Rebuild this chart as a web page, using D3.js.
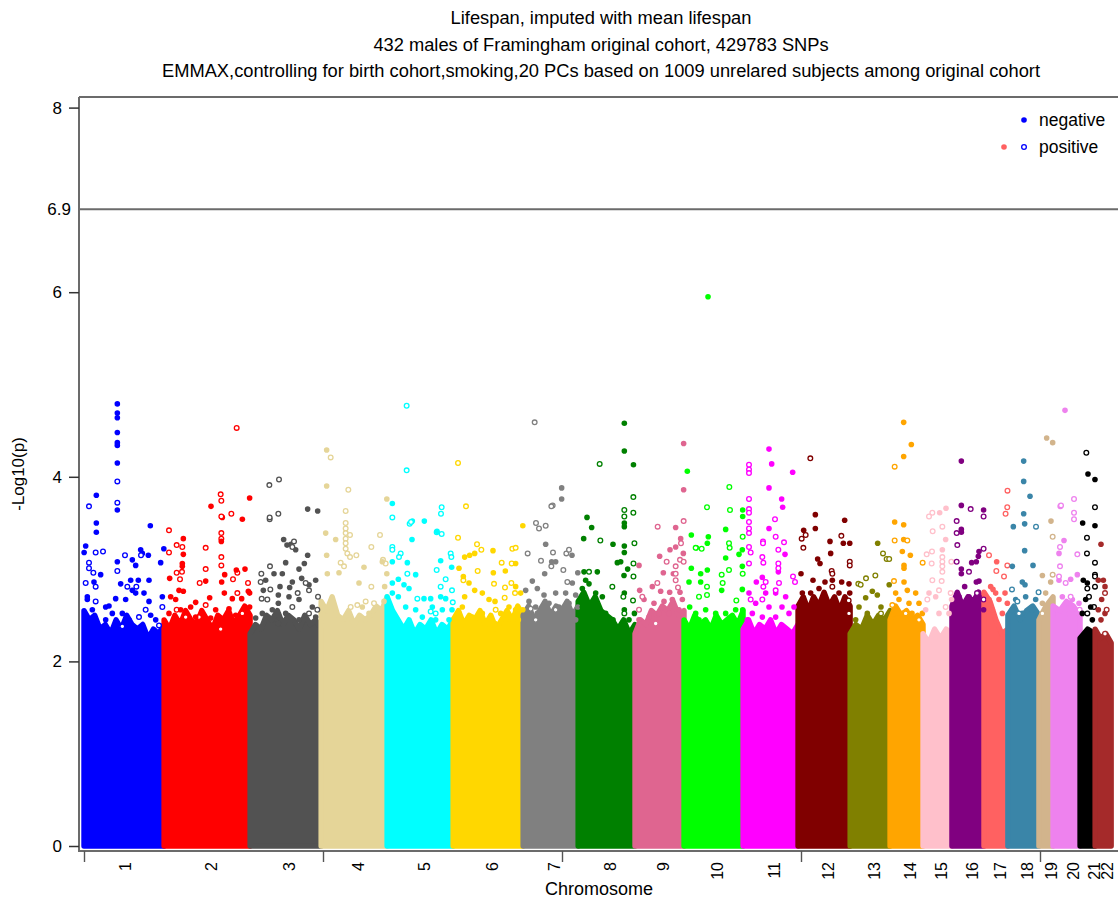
<!DOCTYPE html>
<html>
<head>
<meta charset="utf-8">
<script src="https://cdn.jsdelivr.net/npm/d3@7/dist/d3.min.js"></script>
<style>
  body { margin: 0; background: #fff; }
  text { font-family: "Liberation Sans", Arial, sans-serif; fill: #000; }
</style>
</head>
<body>
<svg id="chart" width="1118" height="899"></svg>
<script>
// ---- data ---------------------------------------------------------------
const chromosomes = ["1","2","3","4","5","6","7","8","9","10","11","12","13","14","15","16","17","18","19","20","21","22"];
// number of SNPs per chromosome (SNPs are plotted in genome order)
const snpCounts = [33510, 35990, 29720, 27600, 27620, 29300, 23010, 23800, 20510, 24700, 23000,
                   21800, 16700, 13800, 12100, 13400, 10000, 13000, 5900, 11300, 6300, 6723];
const chrColors = ["#0000ff","#ff0000","#525252","#e5d598","#00ffff","#ffd700","#808080","#008000",
                   "#df6590","#00ff00","#ff00ff","#800000","#808000","#ffa500","#ffc0cb","#800080",
                   "#ff6161","#3a85a8","#d2b48c","#ee82ee","#000000","#a52a2a"];
// upper edge of the saturated bulk of -log10(p) values, sampled evenly along each chromosome
const bandTops = [
  [2.55, 2.45, 2.50, 2.35, 2.40, 2.30, 2.45, 2.35, 2.50, 2.40, 2.35, 2.40, 2.25, 2.35, 2.30, 2.40],
  [2.45, 2.35, 2.50, 2.40, 2.55, 2.45, 2.40, 2.55, 2.45, 2.35, 2.50, 2.45, 2.55, 2.40, 2.50, 2.60, 2.50],
  [2.30, 2.40, 2.35, 2.50, 2.45, 2.55, 2.40, 2.50, 2.45, 2.35, 2.50, 2.40, 2.45, 2.35],
  [2.65, 2.55, 2.70, 2.50, 2.45, 2.55, 2.40, 2.50, 2.45, 2.50, 2.60, 2.55, 2.70],
  [2.70, 2.55, 2.45, 2.35, 2.45, 2.30, 2.40, 2.35, 2.45, 2.30, 2.40, 2.35, 2.45],
  [2.45, 2.55, 2.40, 2.50, 2.45, 2.55, 2.40, 2.50, 2.35, 2.45, 2.55, 2.45, 2.60, 2.50],
  [2.50, 2.60, 2.45, 2.55, 2.65, 2.50, 2.60, 2.55, 2.65, 2.50, 2.60],
  [2.65, 2.75, 2.60, 2.70, 2.55, 2.50, 2.45, 2.35, 2.45, 2.30, 2.40],
  [2.30, 2.45, 2.40, 2.55, 2.50, 2.60, 2.55, 2.65, 2.50, 2.55],
  [2.45, 2.35, 2.50, 2.40, 2.45, 2.35, 2.50, 2.40, 2.45, 2.50, 2.40, 2.55],
  [2.35, 2.45, 2.30, 2.40, 2.35, 2.45, 2.30, 2.40, 2.35, 2.30, 2.40],
  [2.60, 2.70, 2.55, 2.70, 2.60, 2.75, 2.60, 2.70, 2.55, 2.70, 2.60],
  [2.30, 2.40, 2.35, 2.50, 2.40, 2.50, 2.45, 2.55],
  [2.45, 2.60, 2.50, 2.55, 2.45, 2.50, 2.40],
  [2.30, 2.20, 2.35, 2.25, 2.35, 2.30],
  [2.60, 2.75, 2.60, 2.70, 2.65, 2.75, 2.60],
  [2.75, 2.65, 2.45, 2.30, 2.35],
  [2.50, 2.60, 2.45, 2.55, 2.60, 2.50],
  [2.45, 2.60, 2.70],
  [2.60, 2.55, 2.65, 2.60, 2.50],
  [2.25, 2.35, 2.30],
  [2.35, 2.25, 2.30, 2.20]
];
// individual SNPs above the bulk: [chromosome, genome position (thousands of SNPs), -log10(p), negative effect 1 / positive 0]
const hits = [
  [1,13.95,4.79,1],[1,13.95,4.69,1],[1,13.95,4.64,1],[1,13.95,4.48,1],[1,13.95,4.37,1],[1,13.95,4.34,1],[1,13.95,4.15,1],[1,13.95,3.64,1],
  [1,13.95,3.95,0],[1,13.95,3.72,0],[1,5.16,3.80,1],[1,5.16,3.50,1],[1,5.16,3.40,1],[1,2.09,3.68,0],[1,27.75,3.47,1],
  [1,0.70,3.25,1],[1,0.05,3.18,1],[1,4.88,3.18,0],[1,7.95,3.19,0],[1,33.4,3.22,1],[1,23.71,3.21,1],[1,26.92,3.15,1],[1,24.41,3.17,1],
  [1,17.15,3.15,0],[1,23.85,3.15,0],[1,32.08,3.07,1],[1,13.95,3.08,1],[1,20.22,3.10,1],[1,21.62,3.04,1],
  [1,13.95,2.98,0],[1,2.09,3.07,0],[1,2.09,3.01,0],[1,3.91,2.96,0],[1,6.97,2.94,1],[1,4.18,2.86,1],[1,27.2,2.88,1],[1,22.73,2.88,1],
  [1,19.53,2.88,1],[1,15.34,2.84,1],[1,4.88,2.81,0],[1,21.9,2.81,0],[1,18.13,2.81,0],[1,1.39,2.70,1],[1,1.39,2.67,1],[1,27.2,2.65,1],
  [1,32.78,2.70,1],[1,9.07,2.59,1],[1,10.46,2.60,1],[1,13.25,2.68,1],[1,20.22,2.77,1],[1,21.62,2.74,1],[1,25.1,2.74,1],[1,17.43,2.67,1],
  [1,4.88,2.65,0],[1,25.8,2.56,0],[1,32.78,2.59,0],[1,23.01,2.48,0],[1,31.38,2.39,0],[1,3.49,2.56,1],[1,16.04,2.52,1],[1,11.85,2.52,1],
  [1,27.89,2.50,1],[1,29.99,2.45,1],[1,9.07,2.45,1],[1,18.83,2.45,1],[1,0.70,2.45,1],[1,6.28,2.38,1],[1,25.8,2.30,1],[1,14.64,2.34,1],
  [1,16.04,2.38,0],[1,0.70,2.85,0],

  [2,63.88,4.53,0],[2,69.3,3.77,1],[2,57.18,3.81,0],[2,57.46,3.74,0],[2,53.14,3.68,1],[2,61.65,3.60,0],[2,57.88,3.56,1],[2,66.25,3.54,1],
  [2,57.46,3.57,0],[2,35.56,3.42,0],[2,57.46,3.39,0],[2,57.46,3.33,0],[2,57.46,3.30,1],[2,41.56,3.33,1],[2,38.77,3.26,0],[2,41.14,3.24,0],
  [2,50.91,3.23,0],[2,35.56,3.18,0],[2,57.46,3.13,0],[2,41.56,3.16,1],[2,41.14,3.06,1],[2,41.14,3.03,1],[2,57.46,3.04,0],[2,50.91,3.00,0],
  [2,41.0,2.97,0],[2,38.77,2.96,0],[2,64.16,2.96,0],[2,62.34,2.89,0],[2,68.62,2.85,0],[2,48.4,2.85,0],[2,40.17,2.89,0],
  [2,58.86,2.94,1],[2,63.74,2.99,1],[2,67.36,3.00,1],[2,50.91,2.87,1],[2,57.6,2.86,1],[2,35.84,2.90,1],[2,39.75,2.77,1],[2,41.56,2.76,1],
  [2,68.76,2.76,1],[2,69.3,2.74,1],[2,52.58,2.69,1],[2,46.72,2.64,1],[2,62.06,2.68,1],[2,65.97,2.68,1],[2,58.72,2.74,1],[2,36.26,2.70,1],
  [2,38.35,2.67,1],[2,64.16,2.74,0],[2,50.91,2.61,0],[2,42.54,2.48,0],[2,48.12,2.48,0],[2,66.25,2.52,0],[2,57.18,2.35,0],[2,38.77,2.56,0],
  [2,44.63,2.59,1],[2,40.45,2.56,1],[2,55.09,2.56,1],[2,60.67,2.57,1],[2,69.3,2.59,1],[2,35.56,2.52,1],[2,46.72,2.48,1],[2,53.0,2.47,1],
  [2,63.46,2.50,1],[2,42.54,2.38,1],[2,59.28,2.41,1],[2,67.64,2.45,1],[2,50.91,2.34,1],[2,34.17,2.38,1],[2,38.35,2.30,1],[2,55.09,2.27,1],
  [2,62.06,2.30,1],

  [3,81.59,3.97,0],[3,77.55,3.91,0],[3,81.31,3.60,0],[3,77.68,3.54,0],[3,77.68,3.56,0],[3,93.58,3.65,1],[3,97.77,3.63,1],
  [3,83.54,3.32,1],[3,84.94,3.26,1],[3,88.56,3.21,1],[3,86.61,3.27,1],[3,87.87,3.30,0],[3,87.17,3.24,0],
  [3,93.58,3.15,1],[3,84.38,3.07,1],[3,92.19,3.06,1],[3,89.96,3.00,1],[3,82.98,2.95,1],[3,79.5,2.95,1],[3,87.17,2.86,1],[3,91.07,2.90,1],
  [3,82.01,2.81,1],[3,94.14,2.83,1],[3,96.93,2.88,1],[3,86.05,2.80,1],[3,77.82,3.03,0],[3,74.2,2.95,0],[3,73.92,2.86,0],[3,77.96,2.78,0],
  [3,74.34,2.68,0],[3,92.75,2.85,0],[3,94.14,2.77,0],[3,97.91,2.70,0],[3,89.4,2.74,0],[3,76.01,2.88,1],[3,81.31,2.72,1],[3,75.03,2.77,1],
  [3,81.31,2.63,1],[3,85.77,2.70,1],[3,89.96,2.67,1],[3,95.54,2.59,1],[3,78.8,2.56,1],[3,84.38,2.52,1],[3,74.62,2.52,1],[3,96.93,2.48,1],
  [3,71.83,2.47,1],[3,89.96,2.45,1],[3,81.31,2.41,1],[3,76.71,2.67,0],[3,87.17,2.59,0],[3,97.63,2.56,0],[3,94.14,2.52,0],

  [4,101.53,4.29,1],[4,103.21,4.21,0],[4,101.53,3.90,1],[4,110.6,3.86,0],[4,109.48,3.63,0],[4,101.12,3.39,1],[4,105.3,3.32,1],
  [4,101.53,3.15,1],[4,101.81,2.95,1],[4,106.69,2.96,1],[4,109.48,3.50,0],[4,109.48,3.44,0],[4,109.48,3.39,0],[4,109.48,3.33,0],
  [4,109.48,3.28,0],[4,109.48,3.22,0],[4,107.39,3.07,0],[4,108.79,3.03,0],[4,110.18,3.17,0],[4,111.3,3.37,0],[4,111.3,3.13,0],
  [4,126.7,3.76,1],[4,123.85,3.37,0],[4,113.95,3.15,0],[4,120.22,3.24,0],[4,120.22,2.81,0],[4,125.1,3.10,0],[4,126.22,3.06,0],
  [4,117.15,3.02,1],[4,115.06,2.85,1],[4,124.83,3.08,1],[4,125.8,2.81,1],[4,126.7,2.95,1],[4,111.58,2.59,0],[4,114.37,2.61,0],
  [4,117.85,2.65,0],[4,121.34,2.63,0],[4,116.46,2.59,1],[4,119.25,2.52,1],[4,125.52,2.65,1],

  [5,135.0,4.77,0],[5,135.0,4.07,0],[5,129.01,3.56,0],[5,149.65,3.67,0],[5,149.37,3.60,0],[5,129.01,3.71,1],[5,142.4,3.52,1],
  [5,137.38,3.52,1],[5,137.24,3.32,1],[5,136.26,3.49,0],[5,136.82,3.51,0],[5,147.56,3.40,0],[5,149.65,3.38,0],[5,132.5,3.17,0],
  [5,131.8,3.13,0],[5,153.42,3.17,0],[5,153.7,3.13,0],[5,129.01,3.24,0],[5,129.01,3.21,0],[5,147.7,3.41,1],[5,129.01,3.08,1],
  [5,135.29,3.07,1],[5,138.77,2.94,1],[5,153.84,3.02,1],[5,149.23,3.09,1],[5,135.29,2.95,0],[5,147.56,2.99,0],[5,151.32,2.89,0],
  [5,153.97,2.77,0],[5,149.23,2.81,0],[5,129.01,2.85,1],[5,131.52,2.89,1],[5,133.89,2.83,1],[5,135.98,2.79,1],[5,142.26,2.68,1],
  [5,145.05,2.68,1],[5,149.23,2.70,1],[5,151.32,2.68,1],[5,139.47,2.68,0],[5,145.05,2.54,0],[5,147.14,2.52,0],[5,154.3,2.64,0],
  [5,129.01,2.74,1],[5,131.52,2.70,1],[5,134.59,2.59,1],[5,138.77,2.56,1],[5,145.75,2.59,1],[5,149.93,2.56,1],[5,153.97,2.56,1],
  [5,141.56,2.48,1],[5,152.72,2.45,1],[5,131.1,2.45,1],[5,135.98,2.41,1],[5,147.14,2.45,1],

  [6,156.49,4.15,0],[6,159.83,3.68,0],[6,156.49,3.34,0],[6,164.44,3.27,0],[6,166.25,3.21,0],[6,179.22,3.22,0],[6,180.61,3.23,0],
  [6,164.71,2.98,0],[6,174.76,3.07,0],[6,178.94,3.06,0],[6,178.8,2.85,0],[6,171.55,2.84,0],[6,158.72,2.88,0],[6,176.15,2.80,0],
  [6,176.01,2.69,0],[6,172.25,2.56,0],[6,180.33,2.74,0],[6,183.6,3.47,1],[6,171.13,3.20,1],[6,171.27,2.96,1],[6,176.29,2.98,1],
  [6,180.61,3.06,1],[6,159.27,3.13,1],[6,161.37,3.15,1],[6,163.46,3.17,1],[6,156.9,3.01,1],[6,158.72,2.92,1],[6,161.09,2.85,1],
  [6,163.46,2.77,1],[6,166.67,2.74,1],[6,169.46,2.67,1],[6,171.97,2.65,1],[6,174.34,2.52,1],[6,177.82,2.59,1],[6,180.61,2.56,1],
  [6,183.6,2.56,1],[6,180.61,2.81,1],[6,182.7,2.74,1],[6,159.27,2.70,1],[6,158.3,2.59,1],[6,162.48,2.48,1],[6,166.67,2.52,1],
  [6,171.97,2.41,1],[6,176.43,2.45,1],[6,181.73,2.45,1],[6,156.9,2.52,1],

  [7,188.56,4.59,0],[7,196.09,3.69,0],[7,195.54,3.68,0],[7,189.12,3.50,0],[7,190.38,3.44,0],[7,193.17,3.47,0],[7,185.63,3.17,0],
  [7,191.21,3.09,0],[7,196.23,3.18,0],[7,201.81,3.17,0],[7,202.93,3.21,0],[7,195.54,3.03,0],[7,200.56,2.99,0],[7,202.23,2.86,0],
  [7,186.89,2.57,0],[7,188.98,2.45,0],[7,197.35,2.56,0],[7,199.86,3.88,1],[7,199.86,3.76,1],[7,193.17,3.27,1],[7,204.18,3.15,1],
  [7,206.6,2.96,1],[7,195.68,3.08,1],[7,197.35,3.08,1],[7,192.75,2.95,1],[7,187.59,2.87,1],[7,184.8,2.77,1],[7,189.68,2.79,1],
  [7,192.47,2.72,1],[7,197.35,2.74,1],[7,201.53,2.74,1],[7,204.32,2.85,1],[7,205.72,2.72,1],[7,186.19,2.65,1],[7,188.98,2.59,1],
  [7,194.56,2.63,1],[7,198.74,2.59,1],[7,202.93,2.63,1],[7,206.6,2.59,1],[7,189.68,2.52,1],[7,195.96,2.48,1],[7,201.53,2.52,1],
  [7,205.72,2.45,1],[7,186.19,2.45,1],

  [8,215.76,4.14,0],[8,216.04,3.31,0],[8,221.06,2.81,0],[8,211.3,2.97,0],[8,210.46,3.56,1],[8,212.41,3.45,1],[8,209.07,3.33,1],
  [8,221.34,3.27,1],[8,223.15,3.07,1],[8,209.21,2.97,1],[8,214.78,2.97,1],[8,209.9,2.88,1],[8,211.3,2.84,1],[8,208.5,2.79,1],
  [8,214.09,2.74,1],[8,216.88,2.70,1],[8,208.5,2.59,1],[8,212.41,2.56,1],[8,218.27,2.52,1],[8,209.9,2.52,1],[8,221.34,2.45,1],
  [8,211.3,2.38,1],[8,226.08,4.58,1],[8,226.08,4.28,1],[8,229.9,4.13,1],[8,226.08,3.50,1],[8,226.08,3.46,1],[8,226.08,3.25,1],
  [8,226.08,3.18,1],[8,227.47,3.00,1],[8,225.94,2.93,1],[8,226.08,2.74,1],[8,226.08,2.56,1],[8,224.55,3.08,1],[8,229.85,3.78,0],
  [8,229.85,3.61,0],[8,226.08,3.64,0],[8,226.08,3.57,0],[8,230.3,3.28,0],[8,229.9,3.06,0],[8,229.9,2.92,0],[8,229.71,2.66,0],
  [8,225.66,2.70,0],[8,226.08,2.52,0],[8,225.24,2.41,1],[8,228.03,2.45,1],[8,230.3,2.52,1],

  [9,250.9,4.36,1],[9,250.9,3.86,1],[9,247.56,3.45,1],[9,249.65,3.33,1],[9,250.77,3.17,1],[9,245.19,3.21,1],[9,240.86,3.14,1],
  [9,247.56,3.24,1],[9,242.4,2.96,1],[9,246.58,2.95,1],[9,237.8,2.81,1],[9,241.28,2.76,1],[9,245.05,2.75,1],[9,249.37,2.75,1],
  [9,232.22,3.04,1],[9,232.5,2.77,1],[9,234.31,2.67,1],[9,238.49,2.63,1],[9,242.68,2.65,1],[9,246.16,2.67,1],[9,250.35,2.67,1],
  [9,240.59,2.52,1],[9,244.77,2.52,1],[9,248.95,2.56,1],[9,236.4,2.48,1],[9,232.22,2.45,1],[9,250.9,3.52,0],[9,240.03,3.46,0],
  [9,249.79,3.28,0],[9,243.79,3.08,0],[9,249.37,3.10,0],[9,247.56,3.03,0],[9,247.56,2.95,0],[9,250.9,3.08,0],[9,247.56,2.88,0],
  [9,248.53,2.80,0],[9,239.89,2.85,0],[9,233.61,2.70,0],[9,232.22,2.56,0],[9,239.19,2.41,0],

  [10,261.1,5.95,1],[10,252.44,4.06,1],[10,254.11,3.37,1],[10,261.23,3.35,1],[10,260.81,3.28,1],[10,256.21,3.23,1],[10,268.48,3.43,1],
  [10,268.48,3.12,1],[10,274.06,3.16,1],[10,275.45,3.21,1],[10,275.6,3.64,1],[10,275.6,3.57,1],[10,275.45,3.03,1],[10,258.02,2.95,1],
  [10,260.81,2.99,1],[10,254.11,3.01,1],[10,258.02,2.86,1],[10,253.14,2.86,1],[10,266.81,2.77,1],[10,275.45,2.78,1],[10,253.42,2.59,1],
  [10,255.93,2.52,1],[10,260.11,2.56,1],[10,264.3,2.52,1],[10,268.48,2.52,1],[10,272.66,2.56,1],[10,275.6,2.56,1],[10,257.32,2.45,1],
  [10,265.69,2.38,1],[10,270.01,3.89,0],[10,260.67,3.67,0],[10,270.29,3.64,0],[10,275.6,3.35,0],[10,255.93,3.23,0],[10,258.44,3.22,0],
  [10,269.87,3.28,0],[10,270.15,3.23,0],[10,269.87,2.99,0],[10,266.81,2.94,0],[10,267.22,2.85,0],[10,260.67,2.81,0],[10,257.32,2.70,0],
  [10,260.67,2.72,0],[10,272.94,2.66,0],[10,275.6,2.95,0],

  [11,286.61,4.30,1],[11,287.73,4.14,1],[11,296.51,4.05,1],[11,286.61,3.88,1],[11,291.91,3.76,1],[11,292.33,3.67,1],[11,286.61,3.44,1],
  [11,293.31,3.16,1],[11,283.82,2.91,1],[11,290.52,2.97,1],[11,281.31,2.86,1],[11,285.22,2.74,1],[11,289.4,2.74,1],[11,293.58,2.70,1],
  [11,278.24,2.74,1],[11,281.03,2.63,1],[11,286.61,2.59,1],[11,292.05,2.59,1],[11,297.07,2.59,1],[11,279.64,2.52,1],[11,283.82,2.48,1],
  [11,289.4,2.48,1],[11,294.98,2.52,1],[11,277.55,2.45,1],[11,278.24,4.13,0],[11,278.24,4.08,0],[11,278.24,4.04,0],[11,278.24,3.76,0],
  [11,278.24,3.65,0],[11,278.24,3.61,0],[11,278.24,3.51,0],[11,278.24,3.44,0],[11,278.24,3.39,0],[11,289.12,3.54,0],[11,289.4,3.35,0],
  [11,292.89,3.29,0],[11,284.1,3.30,0],[11,284.1,3.28,0],[11,278.24,3.24,0],[11,278.94,3.18,0],[11,290.52,3.21,0],[11,283.82,3.13,0],
  [11,284.24,3.07,0],[11,278.24,3.06,0],[11,290.52,3.06,0],[11,290.52,3.01,0],[11,296.65,2.92,0],[11,297.49,2.86,0],[11,285.22,2.86,0],
  [11,284.24,2.81,0],[11,283.82,2.67,0],[11,278.94,2.67,0],[11,290.79,2.85,0],[11,289.4,2.77,0],

  [12,303.9,4.20,0],[12,300.28,3.33,0],[12,300.98,3.23,0],[12,301.95,3.37,0],[12,320.4,3.08,0],[12,320.4,3.04,0],[12,316.88,3.36,0],
  [12,312.83,2.98,0],[12,313.11,2.95,0],[12,319.94,2.66,0],[12,313.11,2.81,0],[12,320.08,2.52,0],[12,306.0,3.59,1],[12,306.0,3.44,1],
  [12,301.12,3.42,1],[12,318.27,3.53,1],[12,312.13,3.30,1],[12,317.71,3.28,1],[12,320.4,3.28,1],[12,312.41,3.17,1],[12,306.97,3.11,1],
  [12,307.95,3.06,1],[12,300.0,2.95,1],[12,305.02,2.88,1],[12,310.04,2.86,1],[12,313.11,2.88,1],[12,317.02,2.86,1],[12,320.08,2.84,1],
  [12,300.56,2.74,1],[12,304.04,2.74,1],[12,307.53,2.79,1],[12,315.9,2.74,1],[12,320.4,2.74,1],[12,301.95,2.59,1],[12,310.32,2.67,1],
  [12,318.69,2.59,1],[12,299.16,2.52,1],[12,306.14,2.52,1],[12,313.11,2.52,1],

  [13,332.08,3.28,1],[13,329.85,2.76,1],[13,331.94,2.72,1],[13,327.06,2.69,1],[13,324.27,2.59,1],[13,333.47,2.59,1],[13,327.75,2.52,1],
  [13,332.64,2.48,1],[13,322.87,2.45,1],[13,334.31,3.17,0],[13,335.84,3.11,0],[13,331.1,2.93,0],[13,327.2,2.90,0],[13,323.99,2.84,0],
  [13,324.97,2.83,0],[13,333.47,2.52,0],[13,336.9,3.11,0],[13,336.9,2.83,1],

  [14,342.96,4.59,1],[14,346.16,4.35,1],[14,342.96,4.22,1],[14,339.19,3.51,1],[14,342.96,3.48,1],[14,342.96,3.32,1],[14,342.4,3.19,1],
  [14,345.75,3.15,1],[14,343.1,3.04,1],[14,343.1,3.01,1],[14,343.1,2.86,1],[14,339.6,2.74,1],[14,344.49,2.77,1],[14,347.98,2.74,1],
  [14,341.0,2.67,1],[14,345.19,2.63,1],[14,349.37,2.63,1],[14,338.91,2.52,1],[14,342.4,2.52,1],[14,346.44,2.52,1],[14,350.77,2.52,1],
  [14,339.19,4.11,0],[14,339.19,3.31,0],[14,344.49,3.31,0],[14,350.9,3.07,0],[14,338.91,2.87,0],[14,338.21,2.61,0],[14,343.79,2.52,0],
  [14,349.37,2.45,0],

  [15,354.95,3.61,0],[15,353.56,3.57,0],[15,355.09,3.41,0],[15,359.14,3.46,0],[15,354.81,3.19,0],[15,352.58,3.16,0],[15,354.67,3.06,0],
  [15,354.95,2.88,0],[15,358.86,2.87,0],[15,359.14,3.13,0],[15,359.14,3.08,0],[15,359.14,3.03,0],[15,359.14,2.97,0],[15,362.9,3.08,0],
  [15,357.74,2.77,0],[15,352.86,2.67,0],[15,360.53,2.59,0],[15,362.62,2.74,0],[15,358.02,3.61,1],[15,360.67,3.66,1],[15,360.53,3.32,1],
  [15,359.14,3.21,1],[15,353.56,2.74,1],[15,356.35,2.70,1],[15,363.0,2.67,1],[15,352.16,2.56,1],[15,357.74,2.52,1],[15,361.93,2.52,1],

  [16,367.09,4.17,1],[16,367.09,3.69,1],[16,376.4,3.64,1],[16,367.09,3.43,1],[16,367.09,3.40,1],[16,374.48,3.19,1],[16,374.2,3.14,1],
  [16,373.36,3.08,1],[16,371.41,3.07,1],[16,367.09,3.00,1],[16,367.09,2.95,1],[16,368.48,2.81,1],[16,373.36,2.86,1],[16,374.48,2.87,1],
  [16,366.11,2.70,1],[16,370.29,2.70,1],[16,374.48,2.70,1],[16,364.71,2.59,1],[16,368.9,2.56,1],[16,373.08,2.59,1],[16,376.4,2.56,1],
  [16,370.99,3.65,0],[16,376.4,3.57,0],[16,365.13,3.52,0],[16,365.13,3.39,0],[16,365.41,3.26,0],[16,365.13,3.08,0],[16,370.29,2.97,0],
  [16,376.4,3.22,0],[16,373.64,2.74,0],[16,376.4,2.67,0],

  [17,386.4,3.85,0],[17,386.3,3.67,0],[17,385.6,3.60,0],[17,378.66,3.15,0],[17,381.73,2.98,0],[17,384.94,2.92,0],[17,386.33,3.04,0],
  [17,381.87,3.08,1],[17,379.36,2.81,1],[17,380.33,2.78,1],[17,381.45,2.74,1],[17,385.36,2.74,1],[17,378.66,2.67,1],[17,382.85,2.67,1],
  [17,386.33,2.63,1],[17,380.06,2.56,1],[17,384.24,2.52,1],

  [18,393.17,4.17,1],[18,393.17,3.95,1],[18,395.82,3.79,1],[18,393.17,3.60,1],[18,388.84,3.46,1],[18,393.58,3.49,1],[18,393.58,3.20,1],
  [18,388.42,3.03,1],[18,397.07,3.04,1],[18,392.61,2.86,1],[18,393.72,2.83,1],[18,389.82,2.67,1],[18,394.0,2.70,1],[18,398.19,2.67,1],
  [18,388.42,2.56,1],[18,392.61,2.52,1],[18,396.79,2.56,1],[18,398.33,3.46,0],[18,388.28,2.78,0],[18,390.52,2.65,0],[18,399.4,2.75,0],
  [18,391.21,2.52,0],

  [19,402.79,4.42,1],[19,405.3,4.37,1],[19,404.6,3.52,1],[19,401.0,2.93,1],[19,404.46,2.86,1],[19,402.37,2.74,1],[19,405.16,2.67,1],
  [19,401.0,2.63,1],[19,405.3,3.35,0],[19,405.3,2.94,0],[19,401.0,2.52,0],

  [20,410.46,4.72,1],[20,407.95,3.17,1],[20,410.04,3.31,1],[20,412.83,2.89,1],[20,415.62,2.94,1],[20,407.95,2.88,1],[20,409.35,2.70,1],
  [20,413.53,2.67,1],[20,416.32,2.63,1],[20,407.25,2.56,1],[20,412.13,2.52,1],[20,414.23,3.76,0],[20,408.51,3.68,0],[20,408.79,3.69,0],
  [20,414.23,3.61,0],[20,414.23,3.54,0],[20,408.37,3.24,0],[20,415.62,3.16,0],[20,408.37,3.03,0],[20,407.95,2.92,0],[20,410.74,2.85,0],
  [20,412.83,2.70,0],[20,416.6,2.56,0],

  [21,419.38,4.26,0],[21,423.0,3.67,0],[21,419.65,3.34,0],[21,419.65,3.17,0],[21,423.0,3.07,0],[21,423.0,2.94,0],[21,419.8,2.79,0],
  [21,423.0,2.92,0],[21,423.0,2.81,0],[21,420.5,2.70,0],[21,422.59,2.59,0],[21,419.8,2.52,0],[21,420.08,4.03,1],[21,423.0,3.97,1],
  [21,417.85,3.50,1],[21,423.0,3.47,1],[21,418.13,2.88,1],[21,419.8,2.85,1],[21,419.11,2.67,1],[21,421.2,2.59,1],[21,417.71,2.52,1],
  [21,421.9,2.45,1],

  [22,425.52,3.27,1],[22,424.41,2.88,1],[22,426.5,2.88,1],[22,427.2,2.81,1],[22,425.8,2.67,1],[22,424.41,2.56,1],[22,427.2,2.52,1],
  [22,425.52,2.45,1],[22,427.2,2.74,0],[22,427.89,2.56,0],[22,427.2,2.30,0]
];
const yTicks = [0, 2, 4, 6, 8];
const xTicks = [0, 100000, 200000, 300000, 400000];
const threshold = 6.9;
const titleLines = [
  "Lifespan, imputed with mean lifespan",
  "432 males of Framingham original cohort, 429783 SNPs",
  "EMMAX,controlling for birth cohort,smoking,20 PCs based on 1009 unrelared subjects among original cohort"
];
const legendItems = ["negative", "positive"];

// ---- layout -------------------------------------------------------------
const W = 1118, H = 899;
const frame = { left: 79, top: 97, bottom: 851, right: W };
const svg = d3.select("#chart");
svg.append("rect").attr("width", W).attr("height", H).attr("fill", "#fff");

const x = d3.scaleLinear().domain([0, 400000]).range([84, 1040]);
const y = d3.scaleLinear().domain([0, 8]).range([846, 107.6]);

// chromosome extents along the genome
const starts = d3.cumsum([0, ...snpCounts]);
const chrInfo = chromosomes.map((name, i) => ({
  name, i, start: starts[i], end: starts[i] + snpCounts[i] - 1, color: chrColors[i]
}));

// ---- titles -------------------------------------------------------------
svg.append("g").selectAll("text").data(titleLines).join("text")
  .attr("x", 601).attr("y", (d, i) => 24 + i * 26.5)
  .attr("text-anchor", "middle").attr("font-size", 18.3).text(d => d);

// ---- saturated bulk of each chromosome -----------------------------------
const bandArea = d3.area().x(d => x(d[0])).y0(y(0)).y1(d => y(d[1]));
const bands = svg.append("g");
chrInfo.forEach(c => {
  const tops = bandTops[c.i];
  const pts = tops.map((v, j) => [c.start + (c.end - c.start) * j / (tops.length - 1), v]);
  bands.append("path")
    .attr("d", bandArea(pts))
    .attr("fill", c.color).attr("stroke", c.color)
    .attr("stroke-width", 5.4).attr("stroke-linejoin", "round");
});

// ---- individual SNPs ----------------------------------------------------
const pts = svg.append("g");
pts.selectAll("circle").data(hits).join("circle")
  .attr("cx", d => x(d[1] * 1000))
  .attr("cy", d => y(d[2]))
  .attr("r", d => d[3] ? 2.8 : 2.35)
  .attr("fill", d => d[3] ? chrColors[d[0] - 1] : "#fff")
  .attr("stroke", d => d[3] ? "none" : chrColors[d[0] - 1])
  .attr("stroke-width", 1.3);

// ---- frame, threshold line and axes ---------------------------------------
const lineCol = "#6b6b6b";
svg.append("line").attr("x1", frame.left).attr("x2", frame.right)
  .attr("y1", frame.top).attr("y2", frame.top).attr("stroke", lineCol).attr("stroke-width", 2);
svg.append("line").attr("x1", frame.left).attr("x2", frame.right)
  .attr("y1", y(threshold)).attr("y2", y(threshold)).attr("stroke", lineCol).attr("stroke-width", 2);
svg.append("line").attr("x1", frame.left).attr("x2", frame.left)
  .attr("y1", frame.top).attr("y2", frame.bottom + 1).attr("stroke", lineCol).attr("stroke-width", 2);
svg.append("line").attr("x1", frame.left).attr("x2", frame.right)
  .attr("y1", frame.bottom).attr("y2", frame.bottom).attr("stroke", lineCol).attr("stroke-width", 2);

// y axis
const yAxis = svg.append("g").attr("transform", `translate(${frame.left},0)`)
  .call(d3.axisLeft(y).tickValues(yTicks).tickSize(10).tickPadding(7).tickFormat(d3.format("d")));
yAxis.select(".domain").remove();
yAxis.selectAll(".tick line").attr("stroke", "#333").attr("stroke-width", 1.5);
yAxis.selectAll(".tick text").attr("font-size", 17).attr("font-family", '"Liberation Sans", Arial, sans-serif').attr("fill", "#000");
svg.append("text").attr("x", 71).attr("y", y(threshold)).attr("dy", "0.35em")
  .attr("text-anchor", "end").attr("font-size", 17).text(String(threshold));

// x axis ticks (genome position) without numbers
const xAxis = svg.append("g").attr("transform", `translate(0,${frame.bottom})`)
  .call(d3.axisBottom(x).tickValues(xTicks).tickSize(11).tickFormat(""));
xAxis.select(".domain").remove();
xAxis.selectAll(".tick line").attr("stroke", "#555").attr("stroke-width", 1.4);

// chromosome names, rotated
const labelNudge = [1, 4, 4, 4, 4, 4, 4, 4, 4, 4, 4, 4, 4, 4, 4, 4, 4, 4, 5, 7, 7, 4];
svg.append("g").selectAll("text").data(chrInfo).join("text")
  .attr("transform", c => `translate(${x((c.start + c.end) / 2) + labelNudge[c.i]},862) rotate(-90)`)
  .attr("text-anchor", "end").attr("dy", "0.36em").attr("font-size", 16)
  .text(c => c.name);

svg.append("text").attr("x", 599).attr("y", 895).attr("text-anchor", "middle")
  .attr("font-size", 18).text("Chromosome");
svg.append("text").attr("transform", "translate(24,474) rotate(-90)")
  .attr("text-anchor", "middle").attr("font-size", 17).text("-Log10(p)");

// ---- legend ---------------------------------------------------------------
const lg = svg.append("g");
lg.append("circle").attr("cx", 1024).attr("cy", 120).attr("r", 2.8).attr("fill", chrColors[0]);
lg.append("circle").attr("cx", 1004).attr("cy", 147).attr("r", 2.8).attr("fill", chrColors[16]);
lg.append("circle").attr("cx", 1024).attr("cy", 147).attr("r", 2.35)
  .attr("fill", "#fff").attr("stroke", chrColors[0]).attr("stroke-width", 1.3);
lg.selectAll("text").data(legendItems).join("text")
  .attr("x", 1039).attr("y", (d, i) => 126 + i * 27).attr("font-size", 17.5).text(d => d);
</script>
</body>
</html>
